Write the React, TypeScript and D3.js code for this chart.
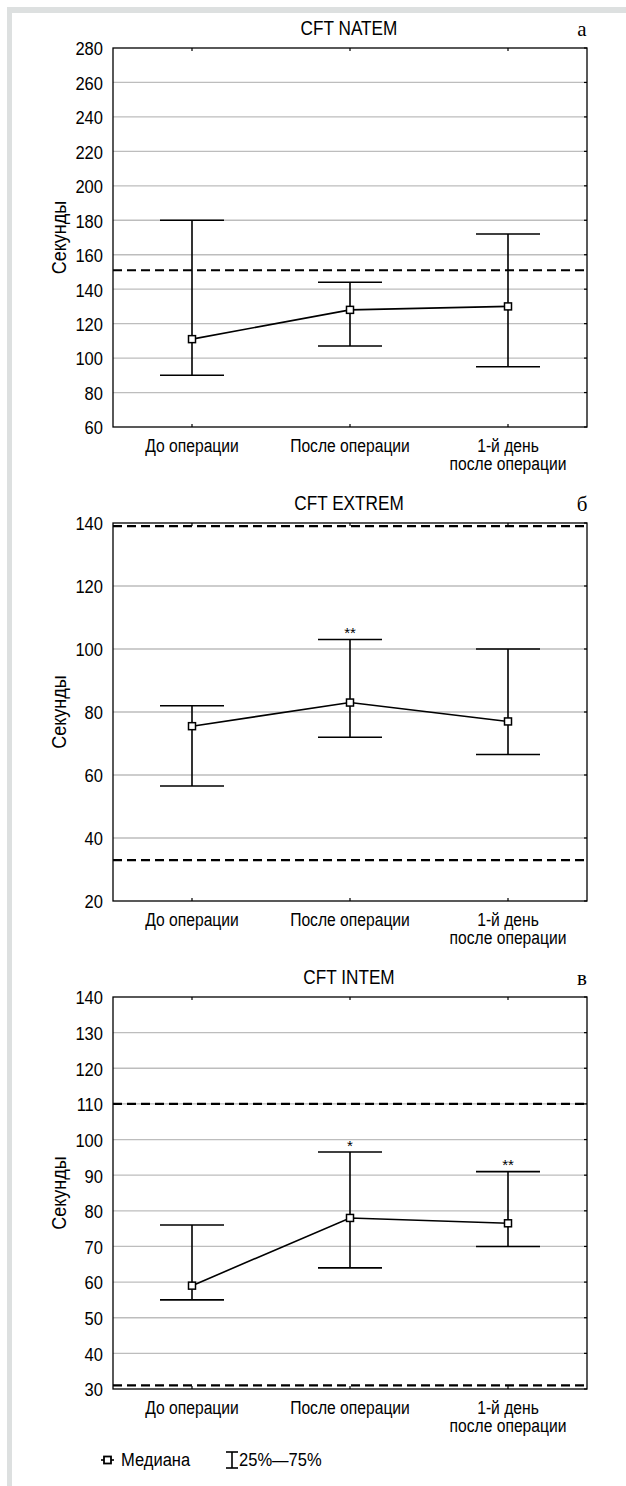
import React from 'react';
import * as d3 from 'd3';

// categories (multi-line labels)
const categories = ['До операции', 'После операции', '1-й день'];
const categoryLines = [['До операции'], ['После операции'], ['1-й день', 'после операции']];

// CFT NATEM
const natemMedian = [111, 128, 130];
const natemQ1 = [90, 107, 95];
const natemQ3 = [180, 144, 172];
const natemRef = [151];
const natemMarks = ['', '', ''];
const natemTicks = [60, 80, 100, 120, 140, 160, 180, 200, 220, 240, 260, 280];

// CFT EXTREM
const extremMedian = [75.5, 83, 77];
const extremQ1 = [56.5, 72, 66.5];
const extremQ3 = [82, 103, 100];
const extremRef = [139, 33];
const extremMarks = ['', '**', ''];
const extremTicks = [20, 40, 60, 80, 100, 120, 140];

// CFT INTEM
const intemMedian = [59, 78, 76.5];
const intemQ1 = [55, 64, 70];
const intemQ3 = [76, 96.5, 91];
const intemRef = [110, 31];
const intemMarks = ['', '*', '**'];
const intemTicks = [30, 40, 50, 60, 70, 80, 90, 100, 110, 120, 130, 140];

const FONT = "'Liberation Sans', Arial, sans-serif";
const SERIF = "'Liberation Serif', 'DejaVu Serif', serif";
const SX = 0.87; // condensed look

const left = 113;
const right = 587;

// text squeezed horizontally
function T({x, y, anchor = 'start', size = 18, family = FONT, sx = SX, rotate = 0, children}) {
	return (
		<text transform={`translate(${x},${y}) rotate(${rotate}) scale(${sx},1)`} textAnchor={anchor}
			dominantBaseline="central" fontFamily={family} fontSize={size}>{children}</text>
	);
}

function Panel(props) {
	const {title, letter, top, bottom, ticks, median, q1, q3, refs, marks} = props;
	const x = d3.scalePoint().domain(categories).range([left, right]).padding(0.5);
	const y = d3.scaleLinear().domain([ticks[0], ticks[ticks.length - 1]]).range([bottom, top]);
	const line = d3.line().x((d, i) => x(categories[i])).y(d => y(d));
	const cap = 32;

	return (
		<g>
			<T x={349} y={top - 20} anchor="middle" size={20} sx={0.86}>{title}</T>
			<T x={582} y={top - 19} anchor="middle" size={21} family={SERIF} sx={1}>{letter}</T>
			{/* grid */}
			{ticks.slice(1, -1).map(t => (
				<line key={t} x1={left} x2={right} y1={y(t)} y2={y(t)} stroke="#bdbdbd" strokeWidth={1.3} />
			))}
			{ticks.map(t => (
				<g key={'t' + t}>
					<T x={left - 10} y={y(t) + 1} anchor="end" size={19}>{t}</T>
					<line x1={right - 3} x2={right} y1={y(t)} y2={y(t)} stroke="#000" strokeWidth={1.2} />
				</g>
			))}
			{categories.map(c => (
				<g key={c}>
					<line x1={x(c)} x2={x(c)} y1={top} y2={top + 3} stroke="#000" strokeWidth={1.2} />
					<line x1={x(c)} x2={x(c)} y1={bottom} y2={bottom - 3} stroke="#000" strokeWidth={1.2} />
				</g>
			))}
			{/* reference lines */}
			{refs.map(r => (
				<line key={'r' + r} x1={left} x2={right} y1={y(r)} y2={y(r)} stroke="#000" strokeWidth={2.2} strokeDasharray="9,5" />
			))}
			{/* whiskers */}
			{categories.map((c, i) => (
				<g key={'e' + c} stroke="#000" strokeWidth={1.6}>
					<line x1={x(c)} x2={x(c)} y1={y(q1[i])} y2={y(q3[i])} />
					<line x1={x(c) - cap} x2={x(c) + cap} y1={y(q1[i])} y2={y(q1[i])} />
					<line x1={x(c) - cap} x2={x(c) + cap} y1={y(q3[i])} y2={y(q3[i])} />
				</g>
			))}
			<path d={line(median)} fill="none" stroke="#000" strokeWidth={1.6} />
			{categories.map((c, i) => (
				<rect key={'m' + c} x={x(c) - 3.5} y={y(median[i]) - 3.5} width={7} height={7} fill="#fff" stroke="#000" strokeWidth={1.5} />
			))}
			{categories.map((c, i) => marks[i] ? (
				<T key={'a' + c} x={x(c)} y={y(q3[i]) - 7} anchor="middle" size={15} sx={1}>{marks[i]}</T>
			) : null)}
			{/* frame */}
			<rect x={left} y={top} width={right - left} height={bottom - top} fill="none" stroke="#000" strokeWidth={1.3} />
			<T x={59} y={(top + bottom) / 2} anchor="middle" size={20} rotate={-90} sx={0.9}>Секунды</T>
			{categories.map((c, i) => (
				<text key={'x' + c} transform={`translate(${x(c)},${bottom + 25}) scale(${SX},1)`} textAnchor="middle"
					fontFamily={FONT} fontSize={18}>
					{categoryLines[i].map((s, k) => (
						<tspan key={k} x={0} dy={k === 0 ? 0 : 18}>{s}</tspan>
					))}
				</text>
			))}
		</g>
	);
}

export default function App() {
	return (
		<svg width={626} height={1486} style={{position: 'absolute', left: 0, top: 0}}>
			<rect x={0} y={0} width={626} height={1486} fill="#fff" />
			<rect x={7} y={7} width={619} height={6} fill="#dde0e0" />
			<rect x={7} y={7} width={5} height={1479} fill="#dde0e0" />
			<Panel title="CFT NATEM" letter="а" top={48} bottom={427} ticks={natemTicks}
				median={natemMedian} q1={natemQ1} q3={natemQ3} refs={natemRef} marks={natemMarks} />
			<Panel title="CFT EXTREM" letter="б" top={523} bottom={901} ticks={extremTicks}
				median={extremMedian} q1={extremQ1} q3={extremQ3} refs={extremRef} marks={extremMarks} />
			<Panel title="CFT INTEM" letter="в" top={997} bottom={1389} ticks={intemTicks}
				median={intemMedian} q1={intemQ1} q3={intemQ3} refs={intemRef} marks={intemMarks} />
			{/* legend */}
			<g>
				<line x1={101} x2={114} y1={1460} y2={1460} stroke="#000" strokeWidth={1.6} />
				<rect x={104} y={1456.5} width={7} height={7} fill="#fff" stroke="#000" strokeWidth={1.8} />
				<T x={121} y={1460} size={19}>Медиана</T>
				<g stroke="#000" strokeWidth={1.6}>
					<line x1={226} x2={238} y1={1452} y2={1452} />
					<line x1={232} x2={232} y1={1452} y2={1468} />
					<line x1={226} x2={238} y1={1468} y2={1468} />
				</g>
				<T x={239} y={1460} size={19}>25%—75%</T>
			</g>
		</svg>
	);
}
